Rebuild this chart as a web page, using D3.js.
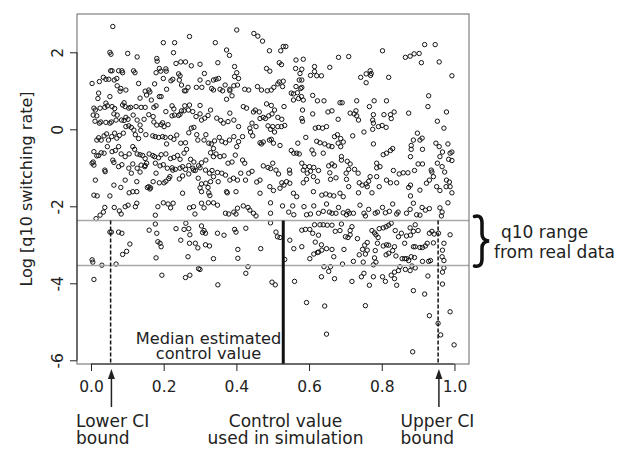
<!DOCTYPE html>
<html>
<head>
<meta charset="utf-8">
<script src="https://cdn.jsdelivr.net/npm/d3@7"></script>
<style>
  body { margin: 0; background: #fff; }
  text { font-family: "DejaVu Sans", sans-serif; fill: #222; }
</style>
</head>
<body>
<div id="chart"></div>
<script>
// axis ticks
const xTicks = [0, 0.2, 0.4, 0.6, 0.8, 1.0];
const yTicks = [-6, -4, -2, 0, 2];

// q10 range from the real data (log scale) and the control value estimates
const q10Range = [-3.54, -2.37];
const ciLower = 0.054;
const medianEstimate = 0.529;
const ciUpper = 0.955;

// simulated runs: [control value, log q10 switching rate], read off the picture by region
const runsUpperLeft = [
  [.060,2.67],[.271,2.41],[.199,2.25],[.230,2.25],[.342,2.25],[.401,2.58],[.052,2.00],[.055,1.95],[.101,1.97],[.127,1.88],[.227,1.99],[.373,2.06],[.381,1.92],[.181,1.84],[.182,1.77],[.234,1.71],[.247,1.75],[.260,1.75],[.276,1.65],[.300,1.69],[.349,1.73],[.206,1.57],[.395,1.63],
  [.003,1.19],[.023,1.24],[.034,1.35],[.041,1.30],[.049,1.30],[.054,1.52],[.058,1.52],[.064,1.28],[.071,1.32],[.076,1.52],[.085,1.52],[.087,1.47],[.072,1.13],[.082,1.06],[.096,1.02],[.117,1.52],[.121,1.47],[.131,1.19],[.149,.99],[.159,1.02],[.175,1.18],[.179,1.47],[.188,1.58],[.192,1.51],[.199,1.32],[.207,1.51],[.220,1.26],[.225,1.30],[.241,1.44],[.245,1.39],[.243,1.28],[.249,1.15],[.257,1.00],[.261,1.00],[.267,1.09],[.290,1.09],[.305,1.09],[.300,1.28],[.312,1.45],[.322,1.21],[.332,1.06],[.337,1.28],[.344,1.30],[.351,1.32],[.369,1.15],[.382,1.04],[.395,1.37],[.401,1.47],[.406,1.32],
  [.021,.94],[.019,.80],[.008,.55],[.012,.50],[.025,.55],[.038,.57],[.041,.68],[.045,.61],[.052,.85],[.058,.59],[.065,.54],[.080,.99],[.091,.69],[.087,.63],[.094,.59],[.104,.55],[.109,.57],[.124,.59],[.135,.81],[.138,.57],[.149,.57],[.153,.89],[.162,.97],[.166,.76],[.173,.57],[.179,.61],[.188,.85],[.193,.85],[.208,1.04],[.206,.46],[.223,.61],[.228,.53],[.241,.36],[.249,.48],[.258,.61],[.271,.63],[.300,.62],[.337,1.02],[.355,1.04],[.362,1.00],[.373,.78],[.382,1.00],[.388,.87],[.393,1.13],[.403,1.15],
  [.006,.37],[.016,.35],[.011,.21],[.023,.16],[.027,.19],[.041,.18],[.052,.16],[.056,.19],[.063,.40],[.069,.24],[.072,.37],[.084,.24],[.091,.23],[.096,.31],[.102,.26],[.116,.37],[.127,.24],[.135,.11],[.146,.26],[.159,.38],[.171,.33],[.173,.19],[.181,.11],[.193,.12],[.197,.17],[.201,.07],[.212,.12],[.223,.35],[.230,.37],[.245,.39],[.256,.48],[.268,.50],[.280,.46],[.289,.33],[.300,.40],[.304,.24],[.313,.29],[.322,.36],[.329,.50],[.346,.29],[.357,.23],[.364,.16],[.377,.20],[.382,.42],[.393,.24],[.406,.07],
  [.016,-.28],[.021,-.22],[.028,-.28],[.036,-.17],[.043,-.12],[.048,-.28],[.057,-.19],[.065,-.10],[.071,-.23],[.078,-.16],[.089,-.10],[.096,.07],[.104,.09],[.111,.05],[.118,-.02],[.122,-.14],[.131,-.24],[.137,-.03],[.151,-.14],[.170,-.17],[.177,-.19],[.186,-.21],[.197,-.19],[.204,-.21],[.208,-.38],[.219,-.21],[.228,-.26],[.236,-.15],[.247,-.36],[.260,-.35],[.269,-.09],[.276,.03],[.283,.05],[.291,-.14],[.294,-.28],[.311,-.28],[.316,-.14],[.324,-.36],[.331,-.38],[.337,-.50],[.340,-.30],[.353,-.21],[.360,-.31],[.370,-.35],[.381,-.28],[.393,-.19],[.401,-.45],[.406,-.32],
  [.008,-.58],[.016,-.69],[.021,-.68],[.028,-.61],[.036,-.62],[.045,-.45],[.058,-.58],[.067,-.55],[.076,-.45],[.083,-.64],[.094,-.71],[.105,-.64],[.115,-.45],[.120,-.52],[.127,-.64],[.135,-.66],[.142,-.68],[.149,-.76],[.160,-.64],[.170,-.68],[.175,-.71],[.186,-.74],[.193,-.66],[.206,-.64],[.219,-.76],[.228,-.73],[.238,-.68],[.245,-.78],[.256,-.62],[.263,-.52],[.274,-.78],[.283,-.85],[.296,-.95],[.304,-.87],[.316,-.80],[.329,-.61],[.337,-.71],[.344,-.64],[.355,-.71],[.366,-.69],[.377,-.88],[.388,-.85],[.397,-.67],
  [.003,-.88],[.006,-.85],[.008,-.93],[.038,-1.06],[.039,-1.10],[.060,-.80],[.063,-.86],[.076,-.97],[.085,-.92],[.104,-1.01],[.115,-.90],[.127,-1.01],[.138,-.93],[.149,-.94],[.153,-.88],[.177,-.88],[.190,-.95],[.199,-.92],[.210,-1.01],[.223,-1.00],[.232,-1.04],[.245,-1.01],[.252,-.97],[.260,-1.04],[.269,-.94],[.280,-1.01],[.287,-1.07],[.300,-1.00],[.315,-1.06],[.326,-1.14],[.333,-1.07],[.348,-1.12],[.360,-1.14],[.370,-1.19],[.382,-1.32],[.392,-1.27],[.403,-1.32],
  [.012,-1.32],[.063,-1.45],[.082,-1.51],[.094,-1.32],[.111,-1.14],[.126,-1.36],[.135,-1.11],[.148,-.97],[.159,-1.49],[.164,-1.52],[.171,-1.36],[.179,-1.14],[.188,-1.39],[.201,-1.39],[.206,-1.35],[.214,-1.28],[.217,-1.23],[.225,-1.06],[.243,-1.29],[.252,-1.21],[.269,-1.16],[.282,-1.06],[.295,-1.27],[.304,-1.42],[.316,-1.40],[.322,-1.51],[.329,-1.36],[.337,-1.23],[.350,-1.36],[.373,-1.62],[.008,-1.71],[.017,-1.73],[.052,-1.73],[.105,-1.65],[.115,-1.62],[.126,-1.62],[.155,-1.51],[.162,-1.55],[.252,-1.66],[.300,-1.52],[.304,-1.62],[.324,-1.65],[.327,-1.72],[.375,-1.65],[.399,-1.62]
];

const runsLowerLeft = [
  [.014,-2.32],[.025,-2.23],[.034,-2.15],[.038,-2.03],[.064,-2.03],[.078,-2.12],[.083,-2.20],[.094,-2.01],[.102,-1.97],[.122,-2.01],[.126,-1.92],[.177,-2.23],[.184,-2.01],[.199,-1.91],[.212,-1.94],[.219,-2.04],[.226,-1.92],[.271,-2.04],[.282,-2.01],[.286,-2.20],[.304,-1.92],[.311,-2.04],[.323,-1.91],[.337,-1.91],[.348,-1.97],[.370,-2.18],[.379,-2.20],[.393,-2.15],[.399,-2.20],[.403,-2.05],
  [.052,-2.67],[.056,-2.67],[.076,-2.67],[.085,-2.70],[.107,-2.98],[.098,-3.17],[.087,-3.25],[.003,-3.39],[.005,-3.45],[.030,-3.53],[.069,-3.50],[.008,-3.90],[.160,-2.62],[.177,-2.46],[.181,-2.70],[.184,-2.92],[.190,-2.96],[.193,-3.05],[.179,-3.34],[.195,-3.79],[.234,-2.58],[.247,-2.88],[.256,-2.60],[.261,-2.44],[.269,-2.58],[.272,-2.74],[.271,-2.96],[.287,-2.96],[.294,-3.08],[.304,-2.51],[.307,-2.68],[.311,-2.63],[.315,-2.70],[.315,-3.00],[.326,-3.03],[.348,-2.70],[.366,-2.75],[.337,-3.36],[.267,-3.31],[.296,-3.62],[.300,-3.64],[.272,-3.79],[.260,-3.85],[.349,-4.04],[.395,-2.60],[.399,-2.67],[.404,-3.12],[.404,-3.35]
];

const runsUpperRight = [
  [.448,2.49],[.459,2.42],[.472,2.29],[.491,2.04],[.522,2.04],[.529,2.15],[.536,2.15],[.564,1.80],[.584,1.82],[.681,1.87],[.709,1.89],[.802,2.04],[.865,1.87],[.878,1.90],[.889,1.96],[.903,1.97],[.918,2.20],[.947,2.20],[.909,1.73],[.958,1.75],
  [.483,1.58],[.492,1.51],[.518,1.73],[.524,1.68],[.563,1.58],[.580,1.56],[.575,1.45],[.573,1.28],[.580,1.28],[.604,1.40],[.615,1.63],[.615,1.50],[.621,1.39],[.634,1.39],[.657,1.61],[.742,1.35],[.757,1.44],[.768,1.52],[.771,1.45],[.769,1.40],[.757,1.21],[.819,1.35],[.993,1.39],
  [.423,1.04],[.434,1.02],[.458,1.11],[.469,1.02],[.485,1.00],[.496,1.02],[.503,1.09],[.514,1.18],[.518,1.23],[.529,1.25],[.527,1.11],[.551,.94],[.557,.92],[.564,1.11],[.568,.95],[.577,1.06],[.580,1.09],[.579,.85],[.571,.80],[.584,.76],[.557,.76],[.623,.74],[.641,.74],[.610,.88],[.685,.69],[.691,.69],[.731,.74],[.779,.74],[.813,.74],[.766,.59],[.419,.59],[.428,.55],[.483,.66],[.496,.62],[.505,.50],[.531,.59],[.447,.45],[.452,.50],[.463,.45],[.474,.31],[.465,.28],[.480,.28],[.489,.35],[.498,.40],[.514,.31],[.525,.26],[.582,.50],[.580,.28],[.582,.21],[.610,.40],[.652,.45],[.663,.48],[.680,.26],[.713,.42],[.724,.40],[.729,.48],[.731,.35],[.736,.24],[.777,.38],[.775,.24],[.777,.16],[.806,.38],[.824,.38],[.834,.45],[.826,.28],[.874,.42],[.929,.87],[.927,.59],[.978,.45],[.953,.21],[.971,.03],
  [.443,.16],[.437,.03],[.439,-.07],[.454,.07],[.487,.09],[.494,0],[.500,.07],[.505,-.07],[.514,.07],[.524,.07],[.533,.10],[.417,-.19],[.445,-.17],[.465,-.35],[.469,-.38],[.474,-.33],[.491,-.28],[.496,-.26],[.502,-.36],[.520,-.42],[.551,-.55],[.558,-.62],[.566,-.62],[.573,-.64],[.569,-.36],[.591,-.21],[.617,.03],[.626,.05],[.637,.03],[.648,.07],[.621,-.31],[.630,-.35],[.643,-.38],[.654,-.43],[.663,-.45],[.670,-.19],[.678,-.14],[.687,-.24],[.694,-.33],[.680,-.36],[.687,-.45],[.608,-.54],[.613,-.64],[.639,-.62],[.720,-.17],[.751,-.07],[.775,0],[.791,.07],[.801,.10],[.812,.05],[.777,-.38],[.804,-.66],[.813,-.62],[.824,-.55],[.830,-.50],[.887,-.28],[.898,-.10],[.905,-.28],[.911,-.23],[.881,-.42],[.881,-.52],[.879,-.71],[.912,-.52],[.949,-.36],[.958,-.45],[.960,-.71],[.982,-.38],[.988,-.62],[.993,-.59],[.984,-.78],[.967,-.59],[.912,-.90],[.900,-.90],[.890,-1.07],[.872,-1.13],[.859,-1.13],[.848,-1.16],[.832,-1.07],[.841,-1.39],[.824,-1.39],[.813,-1.32],[.786,-1.23],[.768,-1.23],
  [.417,-.80],[.423,-.88],[.412,-1.14],[.434,-1.14],[.443,-1.09],[.425,-1.32],[.456,-1.37],[.465,-1.32],[.474,-.95],[.487,-.99],[.494,-1.02],[.500,-.88],[.509,-1.06],[.516,-1.16],[.525,-1.39],[.531,-1.45],[.538,-1.36],[.547,-1.40],[.547,-1.14],[.546,-1.06],[.580,-.88],[.588,-.97],[.584,-1.06],[.595,-1.14],[.601,-.97],[.604,-1.09],[.613,-.99],[.593,-1.30],[.584,-1.39],[.612,-1.23],[.623,-1.35],[.626,-1.07],[.654,-.95],[.663,-.90],[.670,-.95],[.657,-1.13],[.659,-1.30],[.674,-1.26],[.689,-.71],[.689,-.80],[.705,-.83],[.713,-.90],[.709,-1.04],[.702,-1.14],[.703,-1.30],[.709,-1.49],[.725,-1.04],[.735,-1.14],[.738,-1.39],[.746,-1.45],[.757,-1.42],[.764,-1.35],[.760,-1.49],[.786,-.88],[.786,-1.00],[.795,-.97],[.793,-1.49],[.736,-1.65],[.773,-1.65],[.879,-1.45],[.874,-1.51],[.879,-1.73],[.905,-1.58],[.923,-1.40],[.931,-1.32],[.938,-1.11],[.936,-1.06],[.942,-1.23],[.951,-1.49],[.960,-1.59],[.977,-1.49],[.988,-1.49],[.993,-1.65],[.953,-.88],[.966,-.97],[.973,-1.11],[.978,-1.32],[.993,-.81],[.986,-1.37],[.612,-1.62],[.635,-1.71],[.646,-1.68],[.657,-1.71],[.668,-1.73],[.685,-1.66],[.694,-1.75],[.557,-1.66],[.566,-1.75],[.520,-1.53],[.502,-1.59],[.492,-1.49],[.465,-1.66]
];

const runsLowerRight = [
  [.419,-1.99],[.432,-2.03],[.447,-2.18],[.454,-2.25],[.437,-2.10],[.494,-1.91],[.494,-2.18],[.527,-1.99],[.544,-2.15],[.558,-2.22],[.555,-1.99],[.586,-2.01],[.593,-2.22],[.604,-2.20],[.613,-1.99],[.626,-2.18],[.639,-2.13],[.648,-1.94],[.656,-2.15],[.663,-2.18],[.674,-2.18],[.681,-2.03],[.694,-2.17],[.703,-2.22],[.707,-2.13],[.711,-2.18],[.722,-2.18],[.740,-1.97],[.751,-2.18],[.755,-2.25],[.764,-2.08],[.782,-2.18],[.788,-2.15],[.802,-2.03],[.810,-2.17],[.821,-2.13],[.830,-1.94],[.841,-2.20],[.845,-2.15],[.868,-2.18],[.878,-2.08],[.887,-1.92],[.896,-2.22],[.905,-2.23],[.911,-2.03],[.920,-2.10],[.931,-2.06],[.960,-2.04],[.966,-2.15],[.964,-2.25],[.982,-1.91],
  [.494,-2.43],[.509,-2.67],[.513,-2.79],[.520,-2.81],[.426,-2.57],[.467,-3.10],[.547,-2.88],[.558,-3.10],[.580,-3.05],[.580,-2.62],[.590,-2.60],[.602,-2.60],[.615,-2.48],[.630,-2.48],[.639,-2.48],[.650,-2.49],[.663,-2.49],[.672,-2.65],[.685,-2.63],[.700,-2.79],[.707,-2.81],[.689,-2.46],[.610,-2.70],[.617,-2.93],[.626,-2.75],[.634,-3.00],[.602,-3.36],[.613,-3.24],[.623,-3.20],[.626,-3.19],[.635,-3.14],[.648,-3.10],[.663,-3.12],[.668,-3.31],[.692,-3.50],[.696,-3.12],[.713,-2.74],[.713,-2.63],[.718,-2.53],[.733,-2.84],[.738,-3.26],[.747,-3.12],[.753,-3.01],[.755,-3.24],[.760,-2.94],[.760,-3.14],[.773,-2.63],[.780,-2.69],[.784,-2.74],[.790,-2.81],[.788,-2.96],[.793,-2.58],[.804,-2.56],[.812,-2.53],[.819,-2.49],[.826,-2.44],[.837,-2.63],[.846,-2.79],[.854,-2.70],[.863,-2.96],[.868,-2.77],[.879,-2.75],[.878,-2.56],[.887,-2.65],[.892,-2.48],[.900,-2.63],[.887,-3.05],[.892,-3.05],[.905,-3.07],[.912,-3.07],[.920,-3.03],[.925,-2.96],[.931,-2.70],[.938,-2.65],[.942,-2.95],[.944,-2.72],[.956,-2.70],[.782,-3.15],[.780,-3.34],[.784,-3.45],[.804,-3.03],[.813,-3.00],[.819,-3.01],[.812,-3.26],[.819,-3.22],[.830,-3.15],[.835,-3.05],[.839,-3.29],[.856,-3.36],[.863,-3.36],[.868,-3.36],[.874,-3.41],[.881,-3.31],[.890,-3.33],[.912,-3.43],[.929,-3.43],[.934,-3.41],[.971,-3.41],[.988,-2.74],[.533,-3.38],[.722,-3.43],[.749,-3.45],[.777,-3.52],[.967,-3.14],[.966,-3.31],[.971,-3.60],[.971,-2.96],
  [.426,-3.74],[.432,-3.57],[.498,-3.97],[.507,-4.04],[.560,-3.95],[.634,-3.83],[.641,-3.57],[.654,-3.69],[.659,-3.57],[.670,-3.88],[.718,-3.95],[.744,-3.83],[.751,-3.74],[.766,-4.05],[.777,-3.83],[.802,-3.83],[.810,-3.95],[.826,-3.79],[.835,-3.88],[.841,-4.05],[.835,-3.71],[.846,-3.67],[.850,-3.57],[.865,-3.64],[.878,-3.67],[.883,-3.55],[.892,-3.60],[.887,-4.19],[.918,-4.28],[.927,-3.81],[.967,-3.71],[.967,-4.02],[.593,-4.50],[.643,-4.59],[.755,-4.58],[.931,-4.84],[.955,-5.04],[.962,-5.34],[.988,-4.74],[.999,-5.60],[.648,-5.32],[.885,-5.78]
];

const allRuns = runsUpperLeft.concat(runsLowerLeft, runsUpperRight, runsLowerRight);

const width = 630;
const height = 449;
const plot = {left: 77, right: 469, top: 14, bottom: 364};
const font = '"DejaVu Sans", sans-serif';

const xScale = d3.scaleLinear()
  .domain([-0.0385, 1.04])
  .range([plot.left, plot.right]);

const yScale = d3.scaleLinear()
  .domain([-6.096, 2.995])
  .range([plot.bottom, plot.top]);

const svg = d3.select("#chart")
  .append("svg")
  .attr("width", width)
  .attr("height", height)
  .style("background", "#fff");

// points
svg.append("g")
  .selectAll("circle")
  .data(allRuns)
  .join("circle")
  .attr("cx", d => xScale(d[0]))
  .attr("cy", d => yScale(d[1]))
  .attr("r", 2.2)
  .attr("fill", "none")
  .attr("stroke", "#141414")
  .attr("stroke-width", 1);

// q10 range lines
svg.append("g")
  .selectAll("line")
  .data(q10Range)
  .join("line")
  .attr("x1", plot.left)
  .attr("x2", plot.right)
  .attr("y1", d => yScale(d))
  .attr("y2", d => yScale(d))
  .attr("stroke", "#a8a8a8")
  .attr("stroke-width", 1.5);

// CI bounds and median
const vLines = [
  {x: ciLower, width: 1.5, dash: "4,2"},
  {x: medianEstimate, width: 3, dash: null},
  {x: ciUpper, width: 1.5, dash: "4,2"}
];
svg.append("g")
  .selectAll("line")
  .data(vLines)
  .join("line")
  .attr("x1", d => xScale(d.x))
  .attr("x2", d => xScale(d.x))
  .attr("y1", yScale(q10Range[1]))
  .attr("y2", plot.bottom)
  .attr("stroke", "#111")
  .attr("stroke-width", d => d.width)
  .attr("stroke-dasharray", d => d.dash);

// box
svg.append("rect")
  .attr("x", plot.left)
  .attr("y", plot.top)
  .attr("width", plot.right - plot.left)
  .attr("height", plot.bottom - plot.top)
  .attr("fill", "none")
  .attr("stroke", "#666")
  .attr("stroke-width", 1);

// axes
const xAxis = d3.axisBottom(xScale)
  .tickValues(xTicks)
  .tickFormat(d3.format(".1f"))
  .tickSize(7)
  .tickPadding(10);

svg.append("g")
  .attr("transform", `translate(0, ${plot.bottom})`)
  .call(xAxis)
  .call(g => g.select(".domain").attr("d", `M${xScale(0)},0H${xScale(1)}`))
  .call(g => g.selectAll("line, path").attr("stroke", "#222"))
  .call(g => g.selectAll("text").attr("font-family", font).attr("font-size", 15.5).attr("fill", "#222"));

const yAxis = d3.axisLeft(yScale)
  .tickValues(yTicks)
  .tickFormat(d => String(d))
  .tickSize(7);

svg.append("g")
  .attr("transform", `translate(${plot.left}, 0)`)
  .call(yAxis)
  .call(g => g.select(".domain").attr("d", `M0,${yScale(-6)}V${yScale(2)}`))
  .call(g => g.selectAll("line, path").attr("stroke", "#222"))
  .call(g => g.selectAll("text")
    .attr("x", null)
    .attr("dy", null)
    .attr("transform", "translate(-14.5, 0) rotate(-90)")
    .attr("text-anchor", "middle")
    .attr("font-family", font)
    .attr("font-size", 15.5)
    .attr("fill", "#222"));

// y axis title
svg.append("text")
  .attr("transform", `translate(32, ${(plot.top + plot.bottom) / 2}) rotate(-90)`)
  .attr("text-anchor", "middle")
  .attr("font-size", 16)
  .text("Log [q10 switching rate]");

// median label
svg.append("text")
  .attr("x", 208.5).attr("y", 343.5)
  .attr("text-anchor", "middle")
  .attr("font-size", 16.2)
  .text("Median estimated");
svg.append("text")
  .attr("x", 208.5).attr("y", 359.3)
  .attr("text-anchor", "middle")
  .attr("font-size", 16.2)
  .text("control value");

// arrows under the CI bounds
[ciLower, ciUpper].forEach(v => {
  const ax = xScale(v) + 0.8;
  svg.append("line")
    .attr("x1", ax).attr("x2", ax)
    .attr("y1", 376).attr("y2", 407)
    .attr("stroke", "#222")
    .attr("stroke-width", 1.5);
  svg.append("path")
    .attr("d", `M${ax},369L${ax - 3.5},379L${ax + 3.5},379Z`)
    .attr("fill", "#222");
});

// bottom labels
function twoLines(x, anchor, l1, l2) {
  svg.append("text")
    .attr("x", x).attr("y", 427)
    .attr("text-anchor", anchor)
    .attr("font-size", 17)
    .text(l1);
  svg.append("text")
    .attr("x", x).attr("y", 443.8)
    .attr("text-anchor", anchor)
    .attr("font-size", 17)
    .text(l2);
}
twoLines(76, "start", "Lower CI", "bound");
twoLines(285.5, "middle", "Control value", "used in simulation");
twoLines(400.5, "start", "Upper CI", "bound");

// brace for the q10 range
svg.append("path")
  .attr("d", "M474.5,216.5 C479.5,215 482,217.5 482,223 L482,234 C482,238 484.5,240.5 489,241 C484.5,241.5 482,244 482,248 L482,259 C482,264.5 479.5,267 474.5,266")
  .attr("fill", "none")
  .attr("stroke", "#111")
  .attr("stroke-width", 3.5)
  .attr("stroke-linecap", "round");

svg.append("text")
  .attr("x", 501)
  .attr("y", 238)
  .attr("font-size", 17)
  .text("q10 range");
svg.append("text")
  .attr("x", 494)
  .attr("y", 258)
  .attr("font-size", 17)
  .text("from real data");
</script>
</body>
</html>
